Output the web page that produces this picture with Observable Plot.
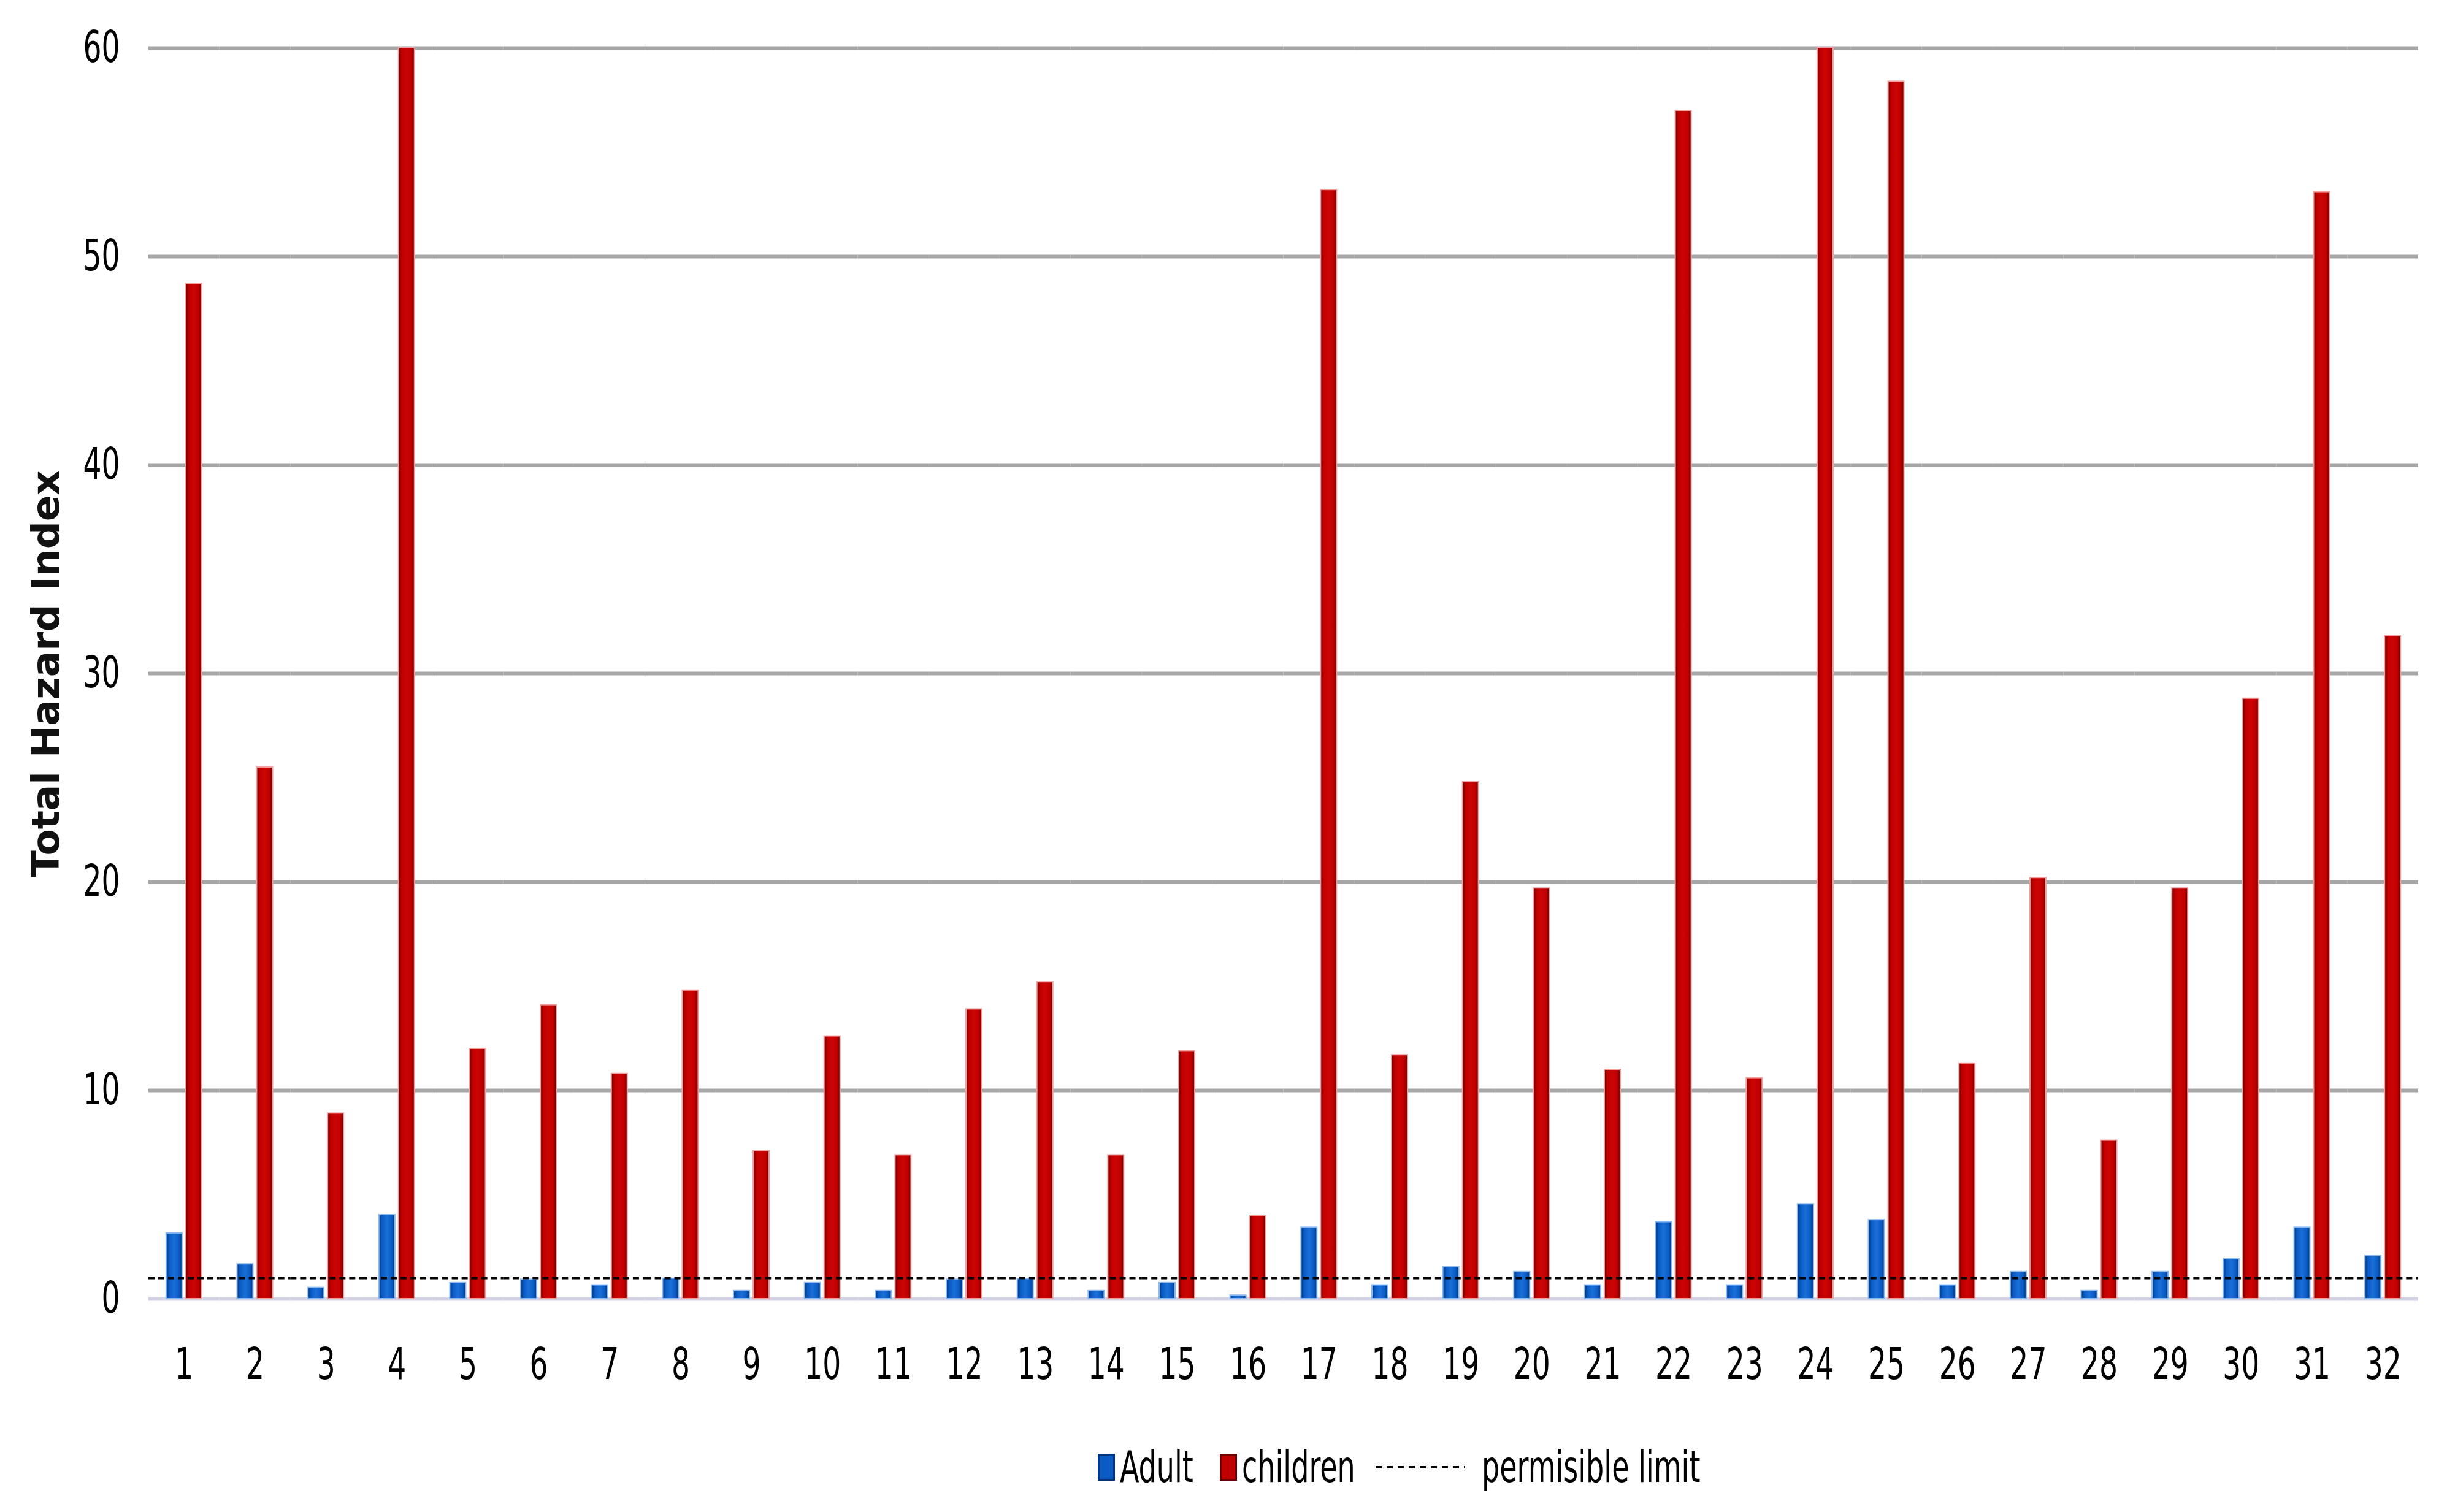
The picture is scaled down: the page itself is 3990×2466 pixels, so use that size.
<!DOCTYPE html>
<html><head><meta charset="utf-8">
<script src="https://cdn.jsdelivr.net/npm/d3@7"></script>
<script src="https://cdn.jsdelivr.net/npm/@observablehq/plot@0.6"></script>
<style>
body{margin:0;background:#fff;width:3990px;height:2466px;overflow:hidden;font-family:"DejaVu Sans Condensed","Liberation Sans",sans-serif;}
#legend{display:flex;align-items:center;height:146px;padding-left:1790px;font-size:64px;color:#000;box-sizing:border-box;}
.sw{width:28px;height:44px;box-sizing:border-box;margin-right:8px;flex:none;}
.lbl{display:inline-block;white-space:nowrap;transform-origin:left center;flex:none;}
</style></head><body>
<div id="chart"></div>
<div id="legend"></div>
<script>
const sites = ["1","2","3","4","5","6","7","8","9","10","11","12","13","14","15","16","17","18","19","20","21","22","23","24","25","26","27","28","29","30","31","32"];
const adult = [3.15,1.67,0.54,4.03,0.77,0.93,0.66,0.98,0.39,0.77,0.39,0.93,0.96,0.39,0.77,0.17,3.43,0.66,1.54,1.30,0.66,3.69,0.66,4.55,3.79,0.66,1.30,0.39,1.30,1.91,3.43,2.06];
const children = [48.7,25.5,8.9,60,12.0,14.1,10.8,14.8,7.1,12.6,6.9,13.9,15.2,6.9,11.9,4.0,53.2,11.7,24.8,19.7,11.0,57.0,10.6,60,58.4,11.3,20.2,7.6,19.7,28.8,53.1,31.8];
const seriesNames = ["Adult","children"];
const seriesColors = ["#0a5cc4","#c00000"];
const yTicks = [0,10,20,30,40,50,60];
const limitValue = 1;
const limitLabel = "permisible limit";
const yLabel = "Total Hazard Index";

const rows = sites.flatMap((s,i)=>[
  {site:s, series:seriesNames[0], value:adult[i]},
  {site:s, series:seriesNames[1], value:children[i]}
]);

const font = '"DejaVu Sans Condensed","Liberation Sans",sans-serif';

const plot = Plot.plot({
  width:3990, height:2320,
  marginTop:78, marginBottom:202, marginLeft:242, marginRight:47,
  style:{fontFamily:font, fontSize:"64px", color:"#000", background:"#fff", overflow:"visible"},
  fx:{domain:sites, padding:0, round:false, label:null, tickSize:0, tickPadding:80},
  x:{domain:seriesNames, paddingInner:0.1875, paddingOuter:0.9, round:false, axis:null},
  y:{domain:[0,60], ticks:yTicks, tickSize:0, tickPadding:47, label:null},
  marks:[
    Plot.ruleY(yTicks.filter(d=>d>0), {stroke:"#a6a6a6", strokeWidth:6}),
    Plot.ruleY([0], {stroke:"#d2d2e4", strokeWidth:6}),
    Plot.barY(rows.filter(d=>d.series===seriesNames[0]), {fx:"site", x:"series", y:"value", fill:"url(#gAdult)", stroke:"#8ab8f2", strokeWidth:2}),
    Plot.barY(rows.filter(d=>d.series===seriesNames[1]), {fx:"site", x:"series", y:"value", fill:"url(#gChildren)", stroke:"#f0a0a0", strokeWidth:2}),
    Plot.ruleY([limitValue], {stroke:"#000", strokeWidth:4, strokeDasharray:"10,6"}),
    Plot.text([yLabel], {fx:[sites[0]], text:d=>d, frameAnchor:"left", dx:-167, rotate:-90, textAnchor:"middle", fontSize:63, fontWeight:"bold", fontFamily:"DejaVu Sans", fill:"#111"})
  ]
});

const defs = d3.select(plot).insert("defs", ":first-child");
function grad(id, edge, mid, center){
  const g = defs.append("linearGradient").attr("id", id).attr("x1","0").attr("x2","1").attr("y1","0").attr("y2","0");
  [[0,edge],[0.2,mid],[0.5,center],[0.8,mid],[1,edge]].forEach(([o,c])=>g.append("stop").attr("offset",o).attr("stop-color",c));
}
grad("gAdult", "#00347e", seriesColors[0], "#1a6fd8");
grad("gChildren", "#6a0000", seriesColors[1], "#cc0404");

// condense tick labels to resemble the narrow original typeface
try {
  d3.select(plot).selectAll('g[aria-label$="tick label"] text').each(function(){
    const t = this.getAttribute("transform") || "";
    this.setAttribute("transform", t + " scale(0.82,1.12)");
  });
} catch(e) {}

document.getElementById("chart").appendChild(plot);

const legend = document.getElementById("legend");
const edgeColors = ["#00347e","#6a0000"];
const scaleX = 0.8;
function addLabel(text, gap){
  const t = document.createElement("span");
  t.className = "lbl";
  t.textContent = text;
  legend.appendChild(t);
  const w = t.offsetWidth;
  t.style.transform = `scale(${scaleX},1.1)`;
  t.style.width = (w*scaleX) + "px";
  t.style.marginRight = gap + "px";
}
seriesNames.forEach((name,i)=>{
  const sw = document.createElement("div");
  sw.className = "sw";
  sw.style.background = seriesColors[i];
  sw.style.border = "3px solid " + edgeColors[i];
  legend.appendChild(sw);
  addLabel(name, i === 0 ? 43 : 33);
});
const ns = "http://www.w3.org/2000/svg";
const ds = document.createElementNS(ns, "svg");
ds.setAttribute("width", 145); ds.setAttribute("height", 10);
ds.style.marginRight = "28px"; ds.style.flex = "none";
const ln = document.createElementNS(ns, "line");
ln.setAttribute("x1", 0); ln.setAttribute("x2", 145); ln.setAttribute("y1", 5); ln.setAttribute("y2", 5);
ln.setAttribute("stroke", "#000"); ln.setAttribute("stroke-width", 4); ln.setAttribute("stroke-dasharray", "10,8");
ds.appendChild(ln);
legend.appendChild(ds);
addLabel(limitLabel, 0);
</script>
</body></html>
